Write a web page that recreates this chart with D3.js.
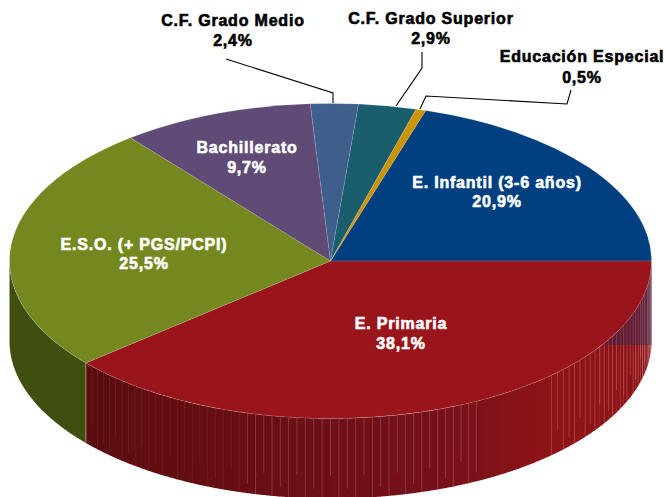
<!DOCTYPE html>
<html>
<head>
<meta charset="utf-8">
<script src="https://d3js.org/d3.v7.min.js"></script>
<style>
  html, body { margin: 0; padding: 0; background: #ffffff; overflow: hidden; }
  text { font-family: "Liberation Sans", Arial, sans-serif; font-weight: bold; text-anchor: middle; letter-spacing: 0.8px; }
</style>
</head>
<body>
<div id="chart"></div>
<script>
var categories = ["E. Infantil (3-6 años)", "E. Primaria", "E.S.O. (+ PGS/PCPI)", "Bachillerato", "C.F. Grado Medio", "C.F. Grado Superior", "Educación Especial"];
var shares = [20.9, 38.1, 25.5, 9.7, 2.4, 2.9, 0.5];
var shareLabels = ["20,9%", "38,1%", "25,5%", "9,7%", "2,4%", "2,9%", "0,5%"];
var topColors = ["#003f80", "#9a141c", "#75881f", "#604a76", "#3e5f8c", "#1a5e6e", "#cc9500"];

var _width = 665, _height = 497;
var _cx = 330.5, _cy = 261;    // centre of the top face
var _rx = 321, _ry = 157.5;
var _depth = 80;               // height of the wall
var _rad = Math.PI / 180;

// label anchors: [x, first baseline, second baseline, colour]
var labelLayout = [
  [497, 188, 207, "#fff"],
  [401, 329, 349, "#fff"],
  [144, 250, 269, "#fff"],
  [247, 153, 173, "#fff"],
  [233, 26, 46, "#000"],
  [431, 24, 44, "#000"],
  [582, 62, 83, "#000"]
];
var leaders = [
  [[226, 59], [333, 93], [333, 103]],
  [[422, 52], [422, 68], [396, 106]],
  [[571, 90], [567, 104], [426, 96], [420, 109]]
];

// the picture is drawn in slight perspective: everything but the east edge sits ~2.5deg further round
function nudge(a) {
  var off = Math.abs(a - 90 * _rad) / (40 * _rad);
  return a + 2.5 * _rad * Math.min(1, off);
}
function px(a) { return _cx + _rx * Math.sin(a); }
function py(a) { return _cy - _ry * Math.cos(a); }

var svg = d3.select("#chart").append("svg")
  .attr("width", _width)
  .attr("height", _height);

// Primaria has to start exactly at 3 o'clock, so start the first slice before it
var pie = d3.pie().sort(null)
  .startAngle(90 * _rad - shares[0] * 3.6 * _rad)
  .endAngle(90 * _rad - shares[0] * 3.6 * _rad + 2 * Math.PI);
var slices = pie(shares).map(function(d, i) {
  return { i: i, startAngle: nudge(d.startAngle), endAngle: nudge(d.endAngle) };
});

// wall: one thin strip per step round the front of the disc
var wallStep = 1.5 * _rad;
var wall = svg.append("g");

function wallPath(a0, a1) {
  var pts = d3.range(a0, a1, 0.2 * _rad).concat([a1]);
  var top = pts.map(function(a) { return [px(a), py(a)]; });
  var bottom = pts.slice().reverse().map(function(a) { return [px(a), py(a) + _depth]; });
  return d3.line()(top.concat(bottom)) + "Z";
}

var primaria = slices[1], eso = slices[2];
var redShade = d3.scaleLinear()
  .domain([primaria.endAngle, primaria.startAngle + 70 * _rad, primaria.startAngle + 45 * _rad])
  .range(["#5a0c0f", "#76101a", "#8f1418"])
  .clamp(true);

// olive part of the wall, only down to the left-most point of the disc
wall.append("path")
  .attr("d", wallPath(eso.startAngle, 270 * _rad))
  .attr("fill", "#3f4f10");

var strips = d3.range(primaria.startAngle, primaria.endAngle, wallStep);
wall.selectAll(".strip")
  .data(strips)
  .enter().append("path")
  .attr("class", "strip")
  .attr("d", function(a) { return wallPath(a, Math.min(a + wallStep * 1.1, primaria.endAngle)); })
  .attr("fill", function(a) { return redShade(a); });

// the seams between strips: long, short, long... and none in the flat stretch at lower right
var seams = strips.filter(function(a) {
  var deg = a / _rad;
  return deg > 90 && !(deg > 137.5 && deg < 153);
});
wall.selectAll(".seam")
  .data(seams)
  .enter().append("line")
  .attr("class", "seam")
  .attr("x1", function(a) { return px(a); })
  .attr("x2", function(a) { return px(a); })
  .attr("y1", function(a) { return py(a); })
  .attr("y2", function(a, i) { return py(a) + _depth * [1, 0.72, 1, 0.88][i % 4]; })
  .attr("stroke", function(a) { return a / _rad > 195 ? "rgba(255,210,200,0.1)" : "rgba(255,220,220,0.26)"; })
  .attr("stroke-width", 0.8);

// the blue slice behind shows through the upper right of the wall
svg.append("defs").append("clipPath").attr("id", "wallBehind")
  .append("path").attr("d", wallPath(90 * _rad, primaria.startAngle + 40 * _rad));
svg.append("rect")
  .attr("x", 590).attr("y", 255)
  .attr("width", 75).attr("height", 90)
  .attr("clip-path", "url(#wallBehind)")
  .attr("fill", "#1c2a5c")
  .attr("opacity", 0.38);

// edge between the olive and red walls
wall.append("line")
  .attr("x1", px(eso.startAngle)).attr("x2", px(eso.startAngle))
  .attr("y1", py(eso.startAngle)).attr("y2", py(eso.startAngle) + _depth)
  .attr("stroke", "#a9ad80").attr("stroke-width", 0.7);

// top face: d3.arc on a circle, squashed into the ellipse
var arc = d3.arc().innerRadius(0).outerRadius(_rx);
var face = svg.append("g")
  .attr("transform", "translate(" + _cx + "," + _cy + ") scale(1," + (_ry / _rx) + ")");
face.selectAll(".slice")
  .data(slices)
  .enter().append("path")
  .attr("class", "slice")
  .attr("d", arc)
  .attr("fill", function(d) { return topColors[d.i]; })
  .attr("stroke", "rgba(255,255,255,0.22)")
  .attr("stroke-width", 0.6)
  .attr("vector-effect", "non-scaling-stroke");

// leader lines
svg.selectAll(".leader")
  .data(leaders)
  .enter().append("path")
  .attr("class", "leader")
  .attr("d", d3.line())
  .attr("fill", "none")
  .attr("stroke", "#000")
  .attr("stroke-width", 1.1);

// labels
var labels = svg.selectAll(".label")
  .data(categories)
  .enter().append("g")
  .attr("class", "label");
labels.append("text")
  .attr("x", function(d, i) { return labelLayout[i][0]; })
  .attr("y", function(d, i) { return labelLayout[i][1]; })
  .attr("font-size", 16)
  .attr("fill", function(d, i) { return labelLayout[i][3]; })
  .attr("stroke", function(d, i) { return labelLayout[i][3]; })
  .attr("stroke-width", 0.6)
  .text(function(d) { return d; });
labels.append("text")
  .attr("x", function(d, i) { return labelLayout[i][0]; })
  .attr("y", function(d, i) { return labelLayout[i][2]; })
  .attr("font-size", 16)
  .attr("fill", function(d, i) { return labelLayout[i][3]; })
  .attr("stroke", function(d, i) { return labelLayout[i][3]; })
  .attr("stroke-width", 0.6)
  .text(function(d, i) { return shareLabels[i]; });
</script>
</body>
</html>
